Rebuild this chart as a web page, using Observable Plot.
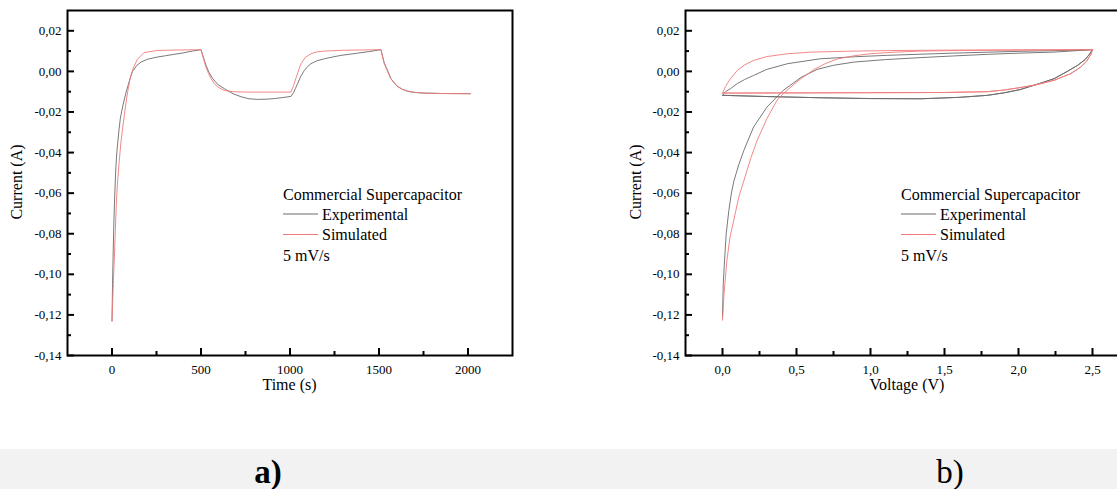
<!DOCTYPE html>
<html><head><meta charset="utf-8">
<script src="https://cdn.jsdelivr.net/npm/d3@7"></script>
<script src="https://cdn.jsdelivr.net/npm/@observablehq/plot@0.6"></script>
<style>
body{margin:0;background:#fff;}
#wrap{position:relative;width:1117px;height:489px;overflow:hidden;font-family:"Liberation Serif","Times New Roman",serif;background:#fff;}
#band{position:absolute;left:0;top:449px;width:1117px;height:40px;background:#f2f2f2;}
#pa{position:absolute;left:0;top:0;width:560px;height:400px;}
#pb{position:absolute;left:600px;top:0;width:560px;height:400px;}
#pa svg,#pb svg{max-width:none !important;width:560px !important;height:400px !important;}
#pa svg text,#pb svg text{font-family:"Liberation Serif","Times New Roman",serif !important;font-size:13px !important;}
#ov{position:absolute;left:0;top:0;}
</style></head><body>
<div id="wrap"><div id="band"></div><div id="pa"></div><div id="pb"></div><svg id="ov" width="1117" height="489"></svg></div>
<script>
// ---- Panel a: current vs time ----
const tExp = [0, 3, 7, 11, 15, 19, 22, 28, 39, 47, 62, 80, 100, 115, 140, 163, 200, 256, 300, 349, 400, 444, 500,
  515, 528, 545, 566, 595, 631, 680, 725, 770, 818, 870, 912, 960, 1006,
  1020, 1030, 1043, 1060, 1081, 1100, 1118, 1150, 1193, 1240, 1287, 1340, 1380, 1440, 1511,
  1520, 1530, 1548, 1567, 1585, 1600, 1630, 1661, 1700, 1755, 1850, 2013];
const iExp = [-0.123, -0.105, -0.088, -0.073, -0.062, -0.053, -0.047, -0.039, -0.029, -0.023, -0.0165, -0.010, -0.004, 0.0000, 0.0030, 0.0046, 0.0060, 0.0071, 0.0077, 0.0084, 0.0091, 0.0099, 0.0107,
  0.0065, 0.0030, -0.0005, -0.0036, -0.0065, -0.0085, -0.0110, -0.0125, -0.0135, -0.0138, -0.0137, -0.0134, -0.0129, -0.0123,
  -0.0105, -0.0085, -0.0060, -0.0025, 0.0005, 0.0025, 0.0038, 0.0052, 0.0062, 0.0071, 0.0079, 0.0085, 0.0090, 0.0097, 0.0107,
  0.0075, 0.0040, 0.0005, -0.0036, -0.0055, -0.0072, -0.0088, -0.0098, -0.0104, -0.0107, -0.0109, -0.0110];
const tSim = [0, 8, 14, 19, 24, 30, 40, 50, 60, 73, 88, 103, 121, 143, 180, 256, 350, 500,
  515, 528, 542, 556, 575, 594, 631, 680, 750, 1005,
  1020, 1035, 1050, 1062, 1085, 1118, 1150, 1193, 1300, 1511,
  1520, 1530, 1548, 1567, 1585, 1605, 1630, 1661, 1700, 1755, 1850, 2013];
const iSim = [-0.123, -0.103, -0.090, -0.078, -0.066, -0.056, -0.045, -0.035, -0.028, -0.019, -0.010, -0.003, 0.002, 0.006, 0.0093, 0.0103, 0.0105, 0.0107,
  0.0060, 0.0020, -0.0010, -0.0036, -0.0060, -0.0077, -0.0094, -0.0100, -0.0102, -0.0102,
  -0.0070, -0.0030, 0.0010, 0.0038, 0.0068, 0.0087, 0.0096, 0.0100, 0.0104, 0.0107,
  0.0070, 0.0038, 0.0000, -0.0036, -0.0058, -0.0074, -0.0088, -0.0097, -0.0103, -0.0107, -0.0109, -0.0110];

// ---- Panel b: current vs voltage (cyclic voltammetry) ----
const vExpFirst = [0, 0.005, 0.014, 0.025, 0.043, 0.06, 0.077, 0.11, 0.144, 0.21, 0.30, 0.41, 0.53, 0.64, 0.75, 0.89, 1.1, 1.34, 1.56, 1.79, 2.01, 2.24, 2.5];
const iExpFirst = [-0.121, -0.105, -0.093, -0.080, -0.0685, -0.060, -0.054, -0.046, -0.039, -0.0274, -0.0176, -0.0094, -0.0030, 0.0010, 0.0030, 0.0046, 0.0058, 0.0068, 0.0076, 0.0084, 0.0090, 0.0095, 0.0107];
const vExpRev = [2.5, 2.48, 2.45, 2.40, 2.33, 2.24, 2.12, 2.01, 1.9, 1.79, 1.6, 1.34, 1.0, 0.66, 0.3, 0];
const iExpRev = [0.0107, 0.0085, 0.0058, 0.0030, 0.0000, -0.0036, -0.0065, -0.0090, -0.0106, -0.0118, -0.0128, -0.0135, -0.0134, -0.0130, -0.0124, -0.0118];
const vExpFwd = [0, 0.02, 0.054, 0.10, 0.15, 0.21, 0.30, 0.44, 0.66, 0.89, 1.11, 1.56, 2.01, 2.3, 2.5];
const iExpFwd = [-0.0118, -0.0100, -0.0085, -0.0060, -0.0040, -0.0020, 0.0010, 0.0038, 0.0062, 0.0072, 0.0079, 0.0090, 0.0099, 0.0103, 0.0107];

const vSimFirst = [0, 0.01, 0.03, 0.05, 0.077, 0.11, 0.144, 0.19, 0.234, 0.30, 0.37, 0.41, 0.48, 0.53, 0.62, 0.70, 0.78, 0.89, 1.0, 1.17, 1.34, 1.6, 2.0, 2.5];
const iSimFirst = [-0.1226, -0.110, -0.093, -0.082, -0.073, -0.062, -0.054, -0.043, -0.034, -0.0233, -0.0140, -0.0110, -0.0065, -0.0036, 0.0010, 0.0040, 0.0062, 0.0077, 0.0087, 0.0095, 0.0100, 0.0103, 0.0105, 0.0107];
const vSimRev = [2.5, 2.49, 2.46, 2.42, 2.35, 2.24, 2.12, 2.01, 1.9, 1.79, 1.5, 1.0, 0.5, 0];
const iSimRev = [0.0107, 0.0085, 0.0050, 0.0021, -0.0012, -0.0044, -0.0066, -0.0080, -0.0092, -0.0100, -0.0104, -0.0105, -0.0106, -0.0107];
const vSimFwd = [0, 0.02, 0.05, 0.10, 0.15, 0.21, 0.30, 0.44, 0.6, 0.89, 1.2, 1.6, 2.0, 2.5];
const iSimFwd = [-0.0107, -0.0075, -0.0040, 0.0005, 0.0032, 0.0054, 0.0073, 0.0087, 0.0095, 0.0100, 0.0103, 0.0105, 0.0106, 0.0107];

// ---- ticks & labels ----
const yMajor = [-0.14, -0.12, -0.10, -0.08, -0.06, -0.04, -0.02, 0.00, 0.02];
const yMinor = [-0.13, -0.11, -0.09, -0.07, -0.05, -0.03, -0.01, 0.01];
const tMajor = [0, 500, 1000, 1500, 2000];
const tMinor = [250, 750, 1250, 1750];
const vMajor = [0, 0.5, 1.0, 1.5, 2.0, 2.5];
const vMinor = [0.25, 0.75, 1.25, 1.75, 2.25];
const seriesNames = ["Experimental", "Simulated"];
const legendTitle = "Commercial Supercapacitor";
const legendNote = "5 mV/s";
const yTitle = "Current (A)";
const xTitles = ["Time (s)", "Voltage (V)"];
const panelLabels = ["a)", "b)"];

const EXP = "#6a6a6a", SIM = "#f07a7a";
const comma = s => s.replace("\u2212", "-").replace(".", ",");
const yFmt = d => comma(d3.format(".2f")(d));
const zip = (xs, ys, kx, ky) => xs.map((x, k) => ({[kx]: x, [ky]: ys[k]}));

const timeExp = zip(tExp, iExp, "t", "i");
const timeSim = zip(tSim, iSim, "t", "i");
const cvExp = [...zip(vExpFirst, iExpFirst, "v", "i"), ...zip(vExpRev, iExpRev, "v", "i"), ...zip(vExpFwd, iExpFwd, "v", "i"), ...zip(vExpRev, iExpRev, "v", "i")];
const cvSim = [...zip(vSimFirst, iSimFirst, "v", "i"), ...zip(vSimRev, iSimRev, "v", "i"), ...zip(vSimFwd, iSimFwd, "v", "i"), ...zip(vSimRev, iSimRev, "v", "i")];

function panel({exp, sim, x, xDomain, xMajor, xMinor, xFmt, width, marginLeft, marginRight}) {
  return Plot.plot({
    width, height: 400, marginLeft, marginRight, marginTop: 10, marginBottom: 45,
    x: {domain: xDomain}, y: {domain: [-0.14, 0.03]},
    style: {fontFamily: "Liberation Serif", fontSize: "13px", color: "black", background: "transparent", overflow: "visible"},
    marks: [
      Plot.line(exp, {x, y: "i", stroke: EXP, strokeWidth: 0.9}),
      Plot.line(sim, {x, y: "i", stroke: SIM, strokeWidth: 0.9}),
      Plot.axisX(xMajor, {tickSize: 0, tickPadding: 9, tickFormat: xFmt, label: null}),
      Plot.axisX(xMajor, {tickSize: -7, fill: "none", strokeWidth: 2, label: null}),
      Plot.axisX(xMinor, {tickSize: -4, fill: "none", strokeWidth: 2, label: null}),
      Plot.axisY(yMajor, {tickSize: 0, tickPadding: 6, tickFormat: yFmt, label: null}),
      Plot.axisY(yMajor, {tickSize: -7, fill: "none", strokeWidth: 2, label: null}),
      Plot.axisY(yMinor, {tickSize: -4, fill: "none", strokeWidth: 2, label: null}),
      Plot.frame({stroke: "black", strokeWidth: 2})
    ]
  });
}

document.getElementById("pa").append(panel({
  exp: timeExp, sim: timeSim, x: "t", xDomain: [-250, 2250], xMajor: tMajor, xMinor: tMinor,
  xFmt: d => String(d), width: 560, marginLeft: 67, marginRight: 48
}));
document.getElementById("pb").append(panel({
  exp: cvExp, sim: cvSim, x: "v", xDomain: [-0.25, 2.75], xMajor: vMajor, xMinor: vMinor,
  xFmt: d => comma(d3.format(".1f")(d)), width: 560, marginLeft: 85, marginRight: 31
}));

// ---- overlay: axis titles, legends, panel labels ----
const ov = d3.select("#ov").style("font-family", "'Liberation Serif','Times New Roman',serif");
[{cx: 289.5, yx: 22, cy: 182}, {cx: 907, yx: 641, cy: 182}].forEach((p, k) => {
  ov.append("text").attr("x", p.cx).attr("y", 390).attr("text-anchor", "middle").attr("font-size", 16).text(xTitles[k]);
  ov.append("text").attr("transform", `translate(${p.yx},${p.cy}) rotate(-90)`).attr("text-anchor", "middle").attr("font-size", 16).text(yTitle);
});
[283, 901].forEach(lx => {
  const g = ov.append("g").attr("font-size", 16);
  g.append("text").attr("x", lx).attr("y", 200).text(legendTitle);
  [EXP, SIM].forEach((c, k) => {
    const y = 214 + k * 20.5;
    g.append("line").attr("x1", lx).attr("x2", lx + 35).attr("y1", y).attr("y2", y).attr("stroke", c).attr("stroke-width", 1);
    g.append("text").attr("x", lx + 39).attr("y", y + 5.5).text(seriesNames[k]);
  });
  g.append("text").attr("x", lx).attr("y", 261).text(legendNote);
});
ov.append("text").attr("x", 268).attr("y", 483).attr("text-anchor", "middle").attr("font-size", 33).attr("font-weight", "bold").text(panelLabels[0]);
ov.append("text").attr("x", 950).attr("y", 483).attr("text-anchor", "middle").attr("font-size", 33).text(panelLabels[1]);
</script>
</body></html>
